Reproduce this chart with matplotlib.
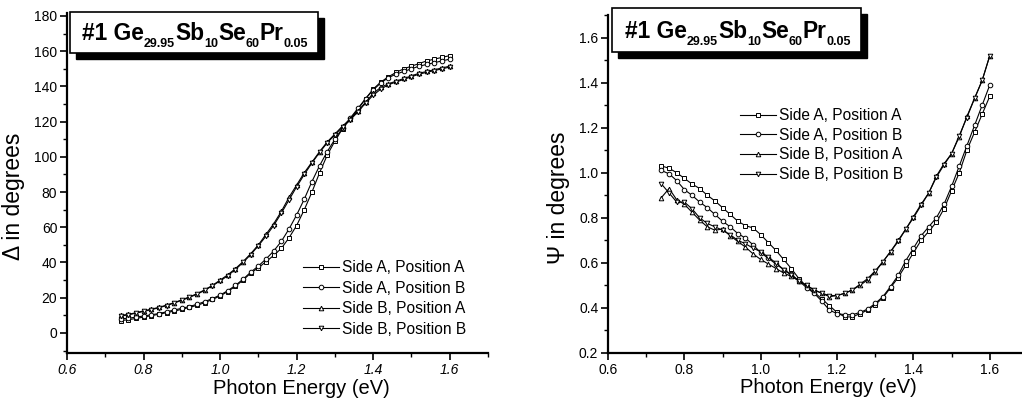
import matplotlib
matplotlib.use('Agg')
import matplotlib.pyplot as plt
import matplotlib.patches as mpatches
from matplotlib.ticker import MultipleLocator

# Photon energy grid (eV)
energy = [0.74, 0.76, 0.78, 0.80, 0.82, 0.84, 0.86, 0.88, 0.90, 0.92, 0.94,
          0.96, 0.98, 1.00, 1.02, 1.04, 1.06, 1.08, 1.10, 1.12, 1.14, 1.16,
          1.18, 1.20, 1.22, 1.24, 1.26, 1.28, 1.30, 1.32, 1.34, 1.36, 1.38,
          1.40, 1.42, 1.44, 1.46, 1.48, 1.50, 1.52, 1.54, 1.56, 1.58, 1.60]

labels = ['Side A, Position A', 'Side A, Position B',
          'Side B, Position A', 'Side B, Position B']

# Delta (degrees)
delta_aa = [7, 7.5, 8.2, 9, 9.8, 10.6, 11.5, 12.4, 13.4, 14.5, 15.7,
            17.2, 19, 21, 23.5, 26.5, 30, 34, 37, 40.5, 44, 48,
            54, 61, 70, 80, 91, 101, 109, 116, 121.5, 127, 133,
            138.5, 142.5, 145.5, 148, 150, 151.5, 153, 154.5, 155.5, 156.5, 157.5]
delta_ab = [8, 8.3, 9, 9.6, 10.3, 11, 12, 13, 14, 15, 16.3,
            17.8, 19.5, 21.5, 24, 27, 30.5, 34.5, 38, 42, 46.5, 52,
            59, 67, 76, 86, 95, 103, 110, 116.5, 122, 127.5, 133,
            138, 142, 145, 147, 148.5, 150, 151.5, 152.5, 153.5, 154.5, 155.5]
delta_ba = [10, 10.5, 11.5, 12.5, 13.5, 14.5, 15.8, 17.2, 18.8, 20.5, 22.3,
            24.5, 27, 30, 33, 36.5, 40.5, 45, 50, 56, 62, 69,
            77, 84, 91, 97, 103, 108.5, 113, 117.5, 121.5, 126, 131,
            136, 139.5, 141.5, 143, 144.5, 146, 147.5, 148.5, 149.5, 150.5, 151.5]
delta_bb = [9.5, 10.3, 11.2, 12.2, 13.2, 14.3, 15.5, 17, 18.5, 20.2, 22,
            24.2, 26.8, 29.5, 32.5, 36, 40, 44.5, 49.5, 55, 61, 68,
            75.5, 83, 90, 96.5, 102.5, 108, 112.5, 117, 121, 125.5, 130.5,
            135, 138.5, 141, 142.5, 144, 145.5, 147, 148, 149, 150, 151]

# Psi (degrees)
psi_aa = [1.03, 1.02, 1.00, 0.975, 0.95, 0.93, 0.90, 0.875, 0.845, 0.815, 0.785,
          0.765, 0.755, 0.725, 0.69, 0.655, 0.615, 0.575, 0.53, 0.495, 0.47, 0.44,
          0.41, 0.38, 0.36, 0.36, 0.375, 0.39, 0.415, 0.445, 0.49, 0.535, 0.59,
          0.645, 0.70, 0.74, 0.78, 0.84, 0.92, 1.00, 1.10, 1.18, 1.26, 1.34]
psi_ab = [1.01, 0.995, 0.965, 0.925, 0.90, 0.87, 0.845, 0.815, 0.785, 0.76, 0.73,
          0.71, 0.68, 0.645, 0.62, 0.595, 0.57, 0.55, 0.52, 0.49, 0.465, 0.43,
          0.39, 0.375, 0.37, 0.37, 0.38, 0.395, 0.42, 0.45, 0.495, 0.545, 0.61,
          0.665, 0.72, 0.76, 0.80, 0.86, 0.94, 1.03, 1.12, 1.21, 1.30, 1.39]
psi_ba = [0.89, 0.93, 0.88, 0.86, 0.825, 0.79, 0.76, 0.745, 0.75, 0.72, 0.695,
          0.67, 0.64, 0.615, 0.595, 0.575, 0.555, 0.54, 0.52, 0.50, 0.48, 0.465,
          0.45, 0.455, 0.465, 0.48, 0.50, 0.525, 0.56, 0.605, 0.65, 0.70, 0.75,
          0.805, 0.86, 0.91, 0.985, 1.04, 1.085, 1.16, 1.25, 1.33, 1.41, 1.52]
psi_bb = [0.95, 0.91, 0.87, 0.87, 0.84, 0.80, 0.775, 0.76, 0.745, 0.725, 0.70,
          0.685, 0.665, 0.65, 0.625, 0.60, 0.57, 0.545, 0.52, 0.50, 0.48, 0.465,
          0.455, 0.455, 0.465, 0.48, 0.505, 0.53, 0.565, 0.605, 0.65, 0.695, 0.75,
          0.80, 0.855, 0.91, 0.98, 1.035, 1.085, 1.165, 1.245, 1.33, 1.41, 1.52]

# sample name, split into (text, is_subscript)
title_parts = [('#1 Ge', False), ('29.95', True), ('Sb', False), ('10', True),
               ('Se', False), ('60', True), ('Pr', False), ('0.05', True)]
markers = ['s', 'o', '^', 'v']

plt.rcParams['font.family'] = ['Liberation Sans', 'DejaVu Sans']

fig = plt.figure(figsize=(10.22, 4.07), dpi=100)
W, H = 1022, 407

ax1 = fig.add_axes([67 / W, 1 - 353 / H, (488 - 67) / W, (353 - 13) / H])
ax2 = fig.add_axes([608 / W, 1 - 353 / H, (1028 - 608) / W, (353 - 15) / H])


def style_axes(ax, ymaj, ymin):
    for s in ['top', 'right']:
        ax.spines[s].set_visible(False)
    for s in ['left', 'bottom']:
        ax.spines[s].set_linewidth(1.6)
    ax.set_xlim(0.6, 1.7)
    ax.xaxis.set_major_locator(MultipleLocator(0.2))
    ax.xaxis.set_minor_locator(MultipleLocator(0.1))
    ax.yaxis.set_major_locator(MultipleLocator(ymaj))
    ax.yaxis.set_minor_locator(MultipleLocator(ymin))
    ax.tick_params(which='major', direction='out', length=5, width=1.2, labelsize=10, pad=2)
    ax.tick_params(which='minor', direction='out', length=3, width=1.0)


def draw(ax, series):
    for ys, m, lab in zip(series, markers, labels):
        ax.plot(energy, ys, color='black', lw=0.8, marker=m, ms=3.3,
                mfc='white', mec='black', mew=0.7, label=lab)


def legend(ax, left, top, spacing):
    ax.legend(loc='upper left', bbox_to_anchor=(left / W, 1 - top / H),
              bbox_transform=fig.transFigure, frameon=False, fontsize=11.2,
              handlelength=2.3, handletextpad=0.2, labelspacing=spacing,
              borderpad=0, borderaxespad=0)


def title_box(x0, base, left, top, bottom):
    # pieces laid out one after another, subscripts smaller and lower
    renderer = fig.canvas.get_renderer()
    x = x0
    for txt, sub in title_parts:
        t = fig.text(x / W, 1 - (base + (7 if sub else 0)) / H, txt,
                     fontsize=9 if sub else 16.4, fontweight='bold',
                     ha='left', va='baseline', zorder=6)
        x += t.get_window_extent(renderer).width
    right = x + 10
    shadow = mpatches.Rectangle(((left + 6) / W, 1 - (bottom + 6) / H),
                                (right - left) / W, (bottom - top) / H,
                                transform=fig.transFigure, fc='black', ec='black', zorder=4)
    box = mpatches.Rectangle((left / W, 1 - bottom / H), (right - left) / W, (bottom - top) / H,
                             transform=fig.transFigure, fc='white', ec='black', lw=1.2, zorder=5)
    fig.add_artist(shadow)
    fig.add_artist(box)


# Delta panel
draw(ax1, [delta_aa, delta_ab, delta_ba, delta_bb])
style_axes(ax1, 20, 10)
ax1.set_ylim(-11.4, 181.7)
ax1.set_xlabel('Photon Energy (eV)', fontsize=14.5)
ax1.xaxis.set_label_coords((301 - 67) / 421, -0.075)
ax1.set_ylabel('Δ in degrees', fontsize=16.5)
ax1.yaxis.set_label_coords(-0.10, 0.46)
for t in ax1.get_xticklabels():
    t.set_fontstyle('italic')
legend(ax1, 303, 260, 0.36)

# Psi panel
draw(ax2, [psi_aa, psi_ab, psi_ba, psi_bb])
style_axes(ax2, 0.2, 0.1)
ax2.set_ylim(0.2, 1.70)
ax2.set_xlabel('Photon Energy (eV)', fontsize=14.5)
ax2.xaxis.set_label_coords((828 - 608) / 420, -0.075)
ax2.set_ylabel('Ψ in degrees', fontsize=16.5)
ax2.yaxis.set_label_coords(-0.09, 0.46)
legend(ax2, 740, 108, 0.3)

title_box(82, 40, 70, 12, 53)
title_box(625, 38, 612, 8, 52)

fig.savefig('out.png', dpi=100)
